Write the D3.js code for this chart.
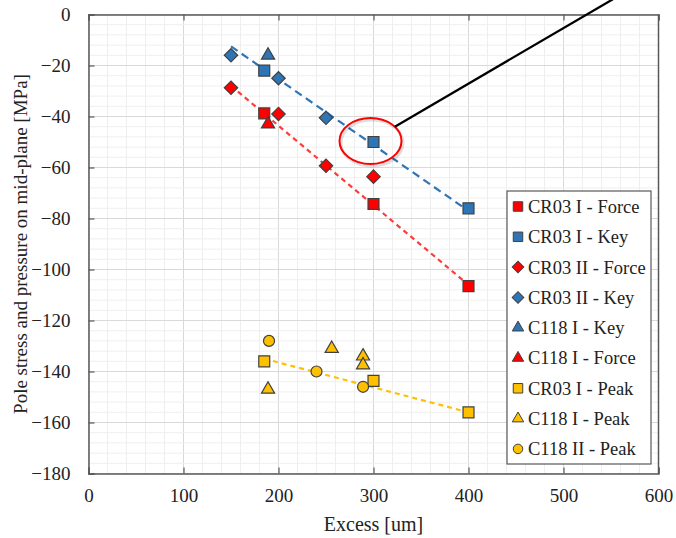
<!DOCTYPE html>
<html>
<head>
<meta charset="utf-8">
<script src="https://cdn.jsdelivr.net/npm/d3@7"></script>
<style>
  body { margin: 0; background: #fff; }
  svg { font-family: "Liberation Serif", "Times New Roman", serif; }
</style>
</head>
<body>
<div id="chart"></div>
<script>
//////////////////////////////////////////////////////////////////////////////
// Data

var xTicks = [0, 100, 200, 300, 400, 500, 600];
var yTicks = [0, -20, -40, -60, -80, -100, -120, -140, -160, -180];

var cr03IForce  = [[185, -38.8], [300, -74.3], [400, -106.5]];
var cr03IKey    = [[185, -22], [300, -50], [400, -76]];
var cr03IIForce = [[150, -28.7], [200, -39], [250, -59.3], [300, -63.6]];
var cr03IIKey   = [[150, -16], [200, -25], [250, -40.5]];
var c118IKey    = [[189, -16]];
var c118IForce  = [[189, -43]];
var cr03IPeak   = [[185, -136], [300, -143.7], [400, -156]];
var c118IPeak   = [[189, -147], [256, -131], [289, -134], [289, -137.5]];
var c118IIPeak  = [[190, -128], [240, -140], [289, -146]];

var keyTrend   = [[150, -12.5], [400, -77]];
var forceTrend = [[150, -28], [400, -106]];
var peakTrend  = [[185, -135], [400, -156]];

var calloutPoint = [300, -50];
var calloutEnd   = [552, 6];

var series = [
    {name: "CR03 I - Force",  data: cr03IForce,  shape: "square",   color: "#ff0000"},
    {name: "CR03 I - Key",    data: cr03IKey,    shape: "square",   color: "#2e75b6"},
    {name: "CR03 II - Force", data: cr03IIForce, shape: "diamond",  color: "#ff0000"},
    {name: "CR03 II - Key",   data: cr03IIKey,   shape: "diamond",  color: "#2e75b6"},
    {name: "C118 I - Key",    data: c118IKey,    shape: "triangle", color: "#2e75b6"},
    {name: "C118 I - Force",  data: c118IForce,  shape: "triangle", color: "#ff0000"},
    {name: "CR03 I - Peak",   data: cr03IPeak,   shape: "square",   color: "#ffc000"},
    {name: "C118 I - Peak",   data: c118IPeak,   shape: "triangle", color: "#ffc000"},
    {name: "C118 II - Peak",  data: c118IIPeak,  shape: "circle",   color: "#ffc000"}
];

var trends = [
    {data: keyTrend,   color: "#2e75b6", dash: "8,5"},
    {data: forceTrend, color: "#ff3b3b", dash: "5,4"},
    {data: peakTrend,  color: "#ffc000", dash: "5,4"}
];

//////////////////////////////////////////////////////////////////////////////

var svgW = 676, svgH = 538;
var plotL = 88.5, plotR = 658.5, plotT = 14.5, plotB = 473.5;

var xScale = d3.scaleLinear().domain([0, 600]).range([plotL, plotR]);
var yScale = d3.scaleLinear().domain([-180, 0]).range([plotB, plotT]);

var svg = d3.select("#chart").append("svg")
    .attr("width", svgW)
    .attr("height", svgH);

// grid
var grid = svg.append("g");
grid.selectAll(".vgrid")
    .data(d3.range(0, 601, 20))
    .enter().append("line")
    .attr("x1", function(d) { return xScale(d); })
    .attr("x2", function(d) { return xScale(d); })
    .attr("y1", plotT).attr("y2", plotB)
    .attr("stroke", function(d) { return d % 100 === 0 ? "#d9d9d9" : "#efefef"; })
    .attr("stroke-width", 1);
grid.selectAll(".hgrid")
    .data(d3.range(-180, 1, 4))
    .enter().append("line")
    .attr("y1", function(d) { return yScale(d); })
    .attr("y2", function(d) { return yScale(d); })
    .attr("x1", plotL).attr("x2", plotR)
    .attr("stroke", function(d) { return d % 20 === 0 ? "#d9d9d9" : "#efefef"; })
    .attr("stroke-width", 1);

// frame and axes
var xAxis = d3.axisBottom(xScale).tickValues(xTicks).tickSize(-6).tickPadding(12);
var yAxis = d3.axisLeft(yScale).tickValues(yTicks).tickSize(-6).tickPadding(18);

var gx = svg.append("g").attr("transform", "translate(0," + plotB + ")").call(xAxis);
var gy = svg.append("g").attr("transform", "translate(" + plotL + ",0)").call(yAxis);
var gxTop = svg.append("g").attr("transform", "translate(0," + plotT + ")")
    .call(d3.axisTop(xScale).tickValues(xTicks).tickSize(-6).tickFormat(""));

[gx, gy, gxTop].forEach(function(g) {
    g.select(".domain").attr("stroke", "#595959").attr("stroke-width", 1.5);
    g.selectAll(".tick line").attr("stroke", "#595959").attr("stroke-width", 1.2);
    g.selectAll(".tick text")
        .attr("fill", "#222")
        .style("font-family", "Liberation Serif, serif")
        .style("font-size", "19px");
});
gx.selectAll(".tick text").attr("dy", "0.85em");
svg.append("line")
    .attr("x1", plotR).attr("x2", plotR).attr("y1", plotT).attr("y2", plotB)
    .attr("stroke", "#595959").attr("stroke-width", 1.5);

// axis titles
svg.append("text")
    .attr("x", xScale(300)).attr("y", 531)
    .attr("text-anchor", "middle")
    .style("font-size", "20px")
    .attr("fill", "#222")
    .text("Excess [um]");
svg.append("text")
    .attr("transform", "translate(27," + ((plotT + plotB) / 2) + ") rotate(-90)")
    .attr("text-anchor", "middle")
    .style("font-size", "19px")
    .attr("fill", "#222")
    .text("Pole stress and pressure on mid-plane [MPa]");

// trend lines
var line = d3.line()
    .x(function(d) { return xScale(d[0]); })
    .y(function(d) { return yScale(d[1]); });

svg.append("g").selectAll("path")
    .data(trends)
    .enter().append("path")
    .attr("d", function(d) { return line(d.data); })
    .attr("fill", "none")
    .attr("stroke", function(d) { return d.color; })
    .attr("stroke-width", 2.2)
    .attr("stroke-dasharray", function(d) { return d.dash; });

// markers
var symbolType = {
    square: d3.symbolSquare,
    diamond: d3.symbolSquare,
    triangle: d3.symbolTriangle,
    circle: d3.symbolCircle
};
var symbolSize = {square: 120, diamond: 90, triangle: 75, circle: 95};

function markerPath(shape, scale) {
    return d3.symbol().type(symbolType[shape]).size(symbolSize[shape] * (scale || 1))();
}
function markerRotate(shape) {
    return shape === "diamond" ? " rotate(45)" : "";
}

series.forEach(function(s) {
    svg.append("g").selectAll("path")
        .data(s.data)
        .enter().append("path")
        .attr("transform", function(d) {
            return "translate(" + xScale(d[0]) + "," + yScale(d[1]) + ")" + markerRotate(s.shape);
        })
        .attr("d", markerPath(s.shape))
        .attr("fill", s.color)
        .attr("stroke", "#404040")
        .attr("stroke-width", 1.2);
});

// callout
var cx = xScale(calloutPoint[0]) - 3, cy = yScale(calloutPoint[1]) - 1;
var rx = 31, ry = 23;
var ex = xScale(calloutEnd[0]), ey = yScale(calloutEnd[1]);
var vx = ex - cx, vy = ey - cy;
var t = 1 / Math.sqrt((vx / rx) * (vx / rx) + (vy / ry) * (vy / ry));

svg.append("ellipse")
    .attr("cx", cx + 1.5).attr("cy", cy + 2)
    .attr("rx", rx).attr("ry", ry)
    .attr("fill", "none")
    .attr("stroke", "#000")
    .attr("stroke-opacity", 0.12)
    .attr("stroke-width", 3);
svg.append("ellipse")
    .attr("cx", cx).attr("cy", cy)
    .attr("rx", rx).attr("ry", ry)
    .attr("fill", "none")
    .attr("stroke", "#ff0000")
    .attr("stroke-width", 2);
svg.append("line")
    .attr("x1", cx + vx * t).attr("y1", cy + vy * t)
    .attr("x2", ex).attr("y2", ey)
    .attr("stroke", "#000")
    .attr("stroke-width", 2.2);

// legend
var legend = svg.append("g").attr("transform", "translate(507,191)");
legend.append("rect")
    .attr("width", 144).attr("height", 273)
    .attr("fill", "#fff")
    .attr("stroke", "#595959")
    .attr("stroke-width", 1.2);

var rows = legend.selectAll(".row")
    .data(series)
    .enter().append("g")
    .attr("transform", function(d, i) { return "translate(0," + (15.5 + i * 30.3) + ")"; });

rows.append("path")
    .attr("transform", function(d) { return "translate(11,0)" + markerRotate(d.shape); })
    .attr("d", function(d) { return markerPath(d.shape, 0.75); })
    .attr("fill", function(d) { return d.color; })
    .attr("stroke", "#404040")
    .attr("stroke-width", 1);

rows.append("text")
    .attr("x", 21).attr("dy", "0.35em")
    .style("font-size", "18.5px")
    .attr("fill", "#222")
    .text(function(d) { return d.name; });
</script>
</body>
</html>
